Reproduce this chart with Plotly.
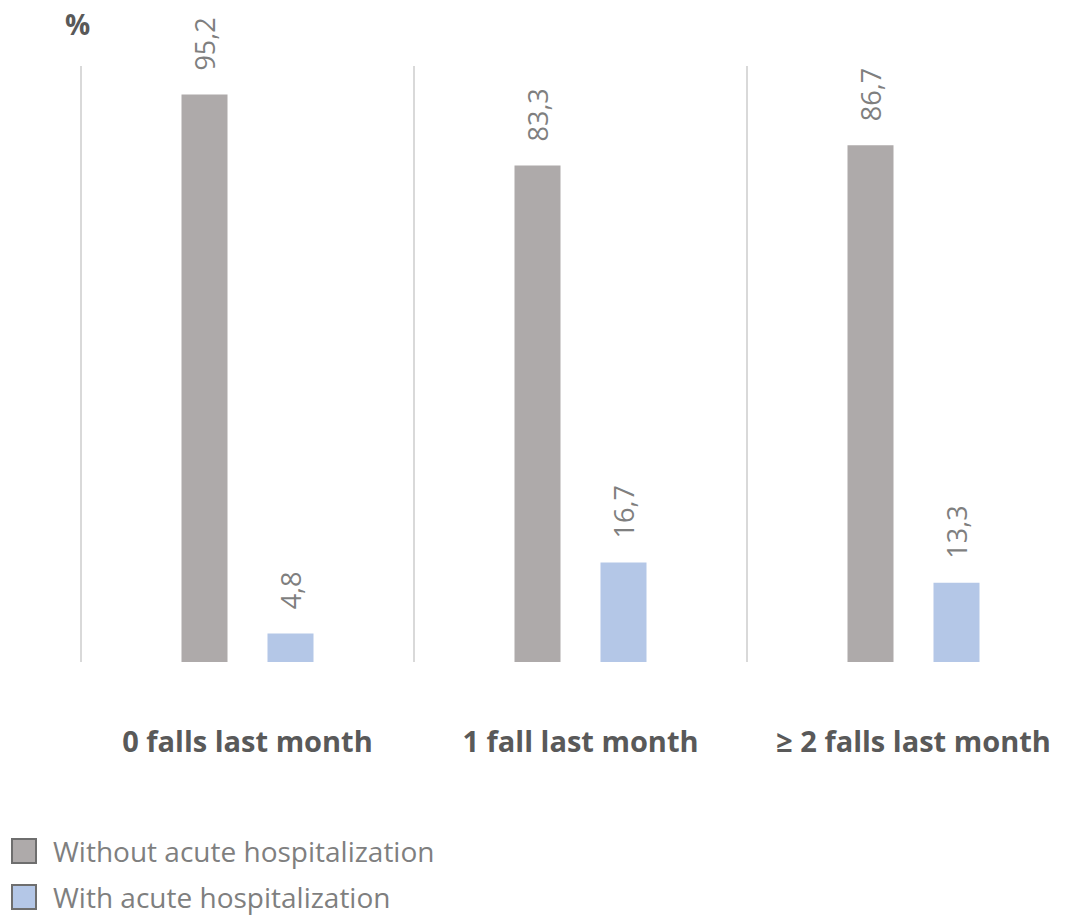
import plotly.graph_objects as go

categories = ["0 falls last month", "1 fall last month", "≥ 2 falls last month"]
series_names = ["Without acute hospitalization", "With acute hospitalization"]
without_hosp = [95.2, 83.3, 86.7]
with_hosp = [4.8, 16.7, 13.3]
colors = ["#AEAAAA", "#B4C7E7"]

W, H = 1070, 915
ML, MR, MT, MB = 78, 0, 66, 253
PW, PH = W - ML - MR, H - MT - MB
CAT_PX = 333.0
X0 = -0.5 - 3 / CAT_PX

def px(x):
    return (x - ML) / PW

def py(y):
    return (H - MB - y) / PH

fig = go.Figure()
for name, vals, col in zip(series_names, [without_hosp, with_hosp], colors):
    fig.add_trace(go.Bar(
        x=categories, y=vals, name=name,
        marker=dict(color=col, line=dict(width=0)),
        text=vals, texttemplate="\u00a0\u00a0\u00a0%{y:.1f}",
        textposition="outside", textangle=-90,
        textfont=dict(family="Open Sans", size=27, color="#7F7F7F"),
        constraintext="none", cliponaxis=False, showlegend=False,
    ))

fig.update_layout(
    width=W, height=H,
    margin=dict(l=ML, r=MR, t=MT, b=MB, pad=0),
    plot_bgcolor="white", paper_bgcolor="white",
    barmode="group", bargap=0.4835, bargroupgap=0.465,
    separators=",.",
    font=dict(family="Open Sans", color="#595959"),
    xaxis=dict(
        range=[X0, X0 + PW / CAT_PX],
        tickson="boundaries", showgrid=True, gridcolor="#D9D9D9", gridwidth=2,
        ticks="", showline=False, zeroline=False,
        tickfont=dict(family="Open Sans", size=29, color="#595959", weight="bold"),
        ticklabelstandoff=60,
    ),
    yaxis=dict(range=[0, 100], showgrid=False, showticklabels=False,
               zeroline=False, showline=False, ticks=""),
    showlegend=False,
)

# "%" unit label
fig.add_annotation(x=px(77), y=py(24), xref="paper", yref="paper", text="<b>%</b>",
                   showarrow=False, font=dict(size=28, color="#595959"),
                   xanchor="center", yanchor="middle")

# manual legend
leg_y = [851, 897]
for name, col, ly in zip(series_names, colors, leg_y):
    fig.add_shape(type="rect", xref="paper", yref="paper",
                  x0=px(12), x1=px(36), y0=py(ly + 12), y1=py(ly - 12),
                  fillcolor=col, line=dict(color="#6E6E6E", width=2))
    fig.add_annotation(x=px(51), y=py(ly), xref="paper", yref="paper", text=name,
                       showarrow=False, xanchor="left", yanchor="middle",
                       font=dict(family="Open Sans", size=28, color="#7F7F7F"))

fig.write_html("out.html")
